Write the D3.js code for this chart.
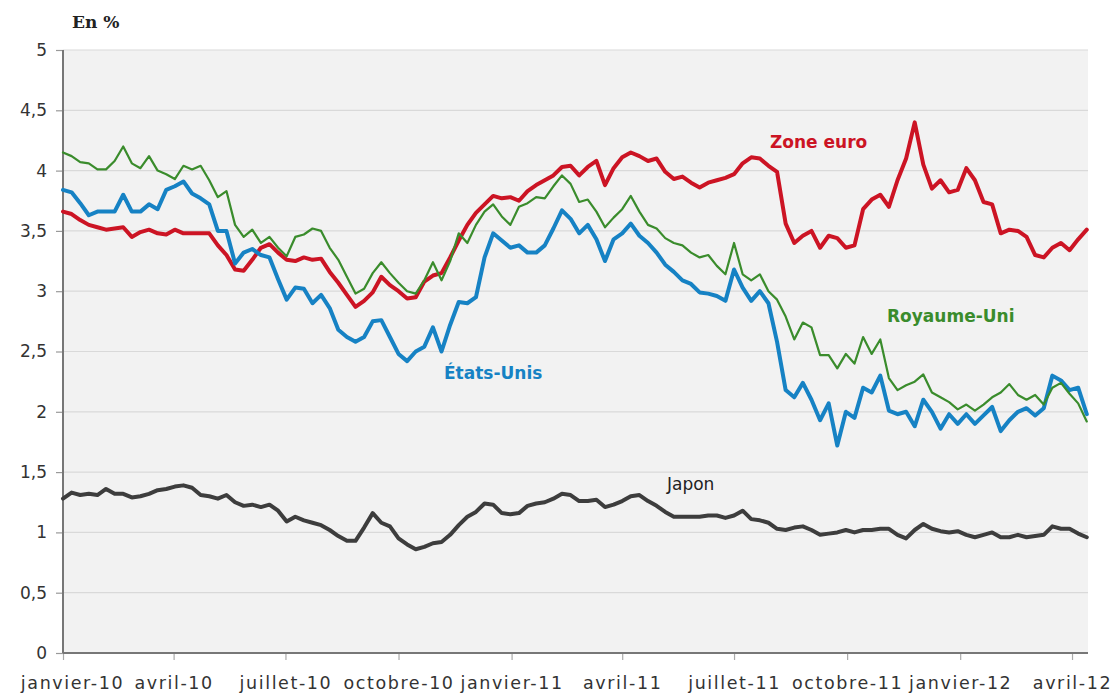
<!DOCTYPE html>
<html>
<head>
<meta charset="utf-8">
<script src="https://cdn.jsdelivr.net/npm/d3@7"></script>
<style>
  body { margin: 0; background: #fff; }
  #chart svg { display: block; }
</style>
</head>
<body>
<div id="chart"></div>
<script>
// weekly readings, first one on 1 January 2010
const startDate = new Date(2010, 0, 1)
const endDate = new Date(2012, 3, 14)

const zoneEuro = [
  3.66, 3.64, 3.59, 3.55, 3.53, 3.51, 3.52, 3.53, 3.45, 3.49,
  3.51, 3.48, 3.47, 3.51, 3.48, 3.48, 3.48, 3.48, 3.38, 3.30,
  3.18, 3.17, 3.26, 3.36, 3.39, 3.32, 3.26, 3.25, 3.28, 3.26,
  3.27, 3.16, 3.07, 2.97, 2.87, 2.92, 2.99, 3.12, 3.05, 3.00,
  2.94, 2.95, 3.08, 3.13, 3.15, 3.28, 3.42, 3.55, 3.65, 3.72,
  3.79, 3.77, 3.78, 3.75, 3.83, 3.88, 3.92, 3.96, 4.03, 4.04,
  3.96, 4.03, 4.08, 3.88, 4.02, 4.11, 4.15, 4.12, 4.08, 4.10,
  3.99, 3.93, 3.95, 3.90, 3.86, 3.90, 3.92, 3.94, 3.97, 4.06,
  4.11, 4.10, 4.04, 3.99, 3.56, 3.40, 3.46, 3.50, 3.36, 3.46,
  3.44, 3.36, 3.38, 3.68, 3.76, 3.80, 3.70, 3.92, 4.10, 4.40,
  4.05, 3.85, 3.92, 3.82, 3.84, 4.02, 3.92, 3.74, 3.72, 3.48,
  3.51, 3.50, 3.45, 3.30, 3.28, 3.36, 3.40, 3.34, 3.43, 3.51
]

const royaumeUni = [
  4.15, 4.12, 4.07, 4.06, 4.01, 4.01, 4.08, 4.20, 4.06, 4.02,
  4.12, 4.00, 3.97, 3.93, 4.04, 4.01, 4.04, 3.92, 3.78, 3.83,
  3.55, 3.45, 3.51, 3.40, 3.45, 3.36, 3.29, 3.45, 3.47, 3.52,
  3.50, 3.36, 3.26, 3.12, 2.98, 3.02, 3.15, 3.24, 3.15, 3.07,
  3.00, 2.98, 3.09, 3.24, 3.09, 3.25, 3.48, 3.40, 3.55, 3.66,
  3.72, 3.62, 3.55, 3.70, 3.73, 3.78, 3.77, 3.87, 3.96, 3.89,
  3.74, 3.76, 3.66, 3.53, 3.61, 3.68, 3.79, 3.66, 3.55, 3.52,
  3.44, 3.40, 3.38, 3.32, 3.28, 3.30, 3.21, 3.14, 3.40, 3.14,
  3.09, 3.14, 3.00, 2.93, 2.79, 2.60, 2.74, 2.70, 2.47, 2.47,
  2.36, 2.48, 2.40, 2.62, 2.48, 2.60, 2.28, 2.18, 2.22, 2.25,
  2.31, 2.16, 2.12, 2.08, 2.02, 2.06, 2.01, 2.06, 2.12, 2.16,
  2.23, 2.14, 2.10, 2.14, 2.06, 2.20, 2.24, 2.15, 2.07, 1.92
]

const etatsUnis = [
  3.84, 3.82, 3.73, 3.63, 3.66, 3.66, 3.66, 3.80, 3.66, 3.66,
  3.72, 3.68, 3.84, 3.87, 3.91, 3.81, 3.77, 3.72, 3.50, 3.50,
  3.23, 3.32, 3.35, 3.30, 3.28, 3.10, 2.93, 3.03, 3.02, 2.90,
  2.97, 2.86, 2.68, 2.62, 2.58, 2.62, 2.75, 2.76, 2.62, 2.48,
  2.42, 2.50, 2.54, 2.70, 2.50, 2.72, 2.91, 2.90, 2.95, 3.28,
  3.48, 3.42, 3.36, 3.38, 3.32, 3.32, 3.38, 3.52, 3.67, 3.60,
  3.48, 3.55, 3.43, 3.25, 3.43, 3.48, 3.56, 3.46, 3.40, 3.32,
  3.22, 3.16, 3.09, 3.06, 2.99, 2.98, 2.96, 2.92, 3.18, 3.03,
  2.92, 3.00, 2.90, 2.58, 2.18, 2.12, 2.24, 2.10, 1.93, 2.07,
  1.72, 2.00, 1.95, 2.20, 2.16, 2.30, 2.01, 1.98, 2.00, 1.88,
  2.10, 2.00, 1.86, 1.98, 1.90, 1.98, 1.90, 1.97, 2.04, 1.84,
  1.93, 2.00, 2.03, 1.97, 2.03, 2.30, 2.26, 2.18, 2.20, 1.98
]

const japon = [
  1.28, 1.33, 1.31, 1.32, 1.31, 1.36, 1.32, 1.32, 1.29, 1.30,
  1.32, 1.35, 1.36, 1.38, 1.39, 1.37, 1.31, 1.30, 1.28, 1.31,
  1.25, 1.22, 1.23, 1.21, 1.23, 1.18, 1.09, 1.13, 1.10, 1.08,
  1.06, 1.02, 0.97, 0.93, 0.93, 1.04, 1.16, 1.08, 1.05, 0.95,
  0.90, 0.86, 0.88, 0.91, 0.92, 0.98, 1.06, 1.13, 1.17, 1.24,
  1.23, 1.16, 1.15, 1.16, 1.22, 1.24, 1.25, 1.28, 1.32, 1.31,
  1.26, 1.26, 1.27, 1.21, 1.23, 1.26, 1.30, 1.31, 1.26, 1.22,
  1.17, 1.13, 1.13, 1.13, 1.13, 1.14, 1.14, 1.12, 1.14, 1.18,
  1.11, 1.10, 1.08, 1.03, 1.02, 1.04, 1.05, 1.02, 0.98, 0.99,
  1.00, 1.02, 1.00, 1.02, 1.02, 1.03, 1.03, 0.98, 0.95, 1.02,
  1.07, 1.03, 1.01, 1.00, 1.01, 0.98, 0.96, 0.98, 1.00, 0.96,
  0.96, 0.98, 0.96, 0.97, 0.98, 1.05, 1.03, 1.03, 0.99, 0.96
]

const xTickDates = [
  new Date(2010, 0, 1), new Date(2010, 3, 1), new Date(2010, 6, 1),
  new Date(2010, 9, 1), new Date(2011, 0, 1), new Date(2011, 3, 1),
  new Date(2011, 6, 1), new Date(2011, 9, 1), new Date(2012, 0, 1),
  new Date(2012, 3, 1)
]
const xTickLabels = ['janvier-10', 'avril-10', 'juillet-10', 'octobre-10', 'janvier-11',
  'avril-11', 'juillet-11', 'octobre-11', 'janvier-12', 'avril-12']
const yTicks = [0, 0.5, 1, 1.5, 2, 2.5, 3, 3.5, 4, 4.5, 5]

const series = [
  { name: 'Japon', values: japon, color: '#3d3d3d', width: 4 },
  { name: 'Zone euro', values: zoneEuro, color: '#cc1424', width: 4 },
  { name: 'États-Unis', values: etatsUnis, color: '#1682c4', width: 4 },
  { name: 'Royaume-Uni', values: royaumeUni, color: '#3a8c2c', width: 2.2 }
]

const labels = [
  { text: 'Zone euro', color: '#cc1424', x: 770, y: 148, weight: 'bold' },
  { text: 'Royaume-Uni', color: '#3a8c2c', x: 887, y: 322, weight: 'bold' },
  { text: 'États-Unis', color: '#1682c4', x: 444, y: 379, weight: 'bold' },
  { text: 'Japon', color: '#222', x: 667, y: 490, weight: 'normal' }
]

const margin = { top: 50, right: 26, bottom: 42, left: 63 }
const width = 1114
const height = 695
const innerW = width - margin.left - margin.right
const innerH = height - margin.top - margin.bottom

const svg = d3.select('#chart')
  .append('svg')
  .attr('width', width)
  .attr('height', height)
  .style('font-family', "'DejaVu Sans', sans-serif")

const g = svg.append('g')
  .attr('transform', 'translate(' + margin.left + ',' + margin.top + ')')

const x = d3.scaleTime().domain([startDate, endDate]).range([0, innerW])
const y = d3.scaleLinear().domain([0, 5]).range([innerH, 0])

g.append('rect')
  .attr('width', innerW)
  .attr('height', innerH)
  .attr('fill', '#f2f2f2')

// horizontal grid
g.selectAll('.grid')
  .data(yTicks.slice(1))
  .join('line')
  .attr('class', 'grid')
  .attr('x1', 0)
  .attr('x2', innerW)
  .attr('y1', d => y(d))
  .attr('y2', d => y(d))
  .attr('stroke', '#d9d9d9')
  .attr('stroke-width', 1.2)

// y axis
const yAxis = g.append('g')
  .call(d3.axisLeft(y).tickValues(yTicks).tickSize(7).tickPadding(9)
    .tickFormat(d => String(d).replace('.', ',')))
yAxis.select('.domain').remove()
yAxis.selectAll('.tick line').attr('stroke', '#999').attr('stroke-width', 1.2)
yAxis.selectAll('text').attr('font-size', 17).attr('fill', '#333')
  .attr('font-family', "'DejaVu Sans', sans-serif")

// x axis
const xAxis = g.append('g')
  .attr('transform', 'translate(0,' + innerH + ')')
  .call(d3.axisBottom(x).tickValues(xTickDates).tickSize(7).tickPadding(17)
    .tickFormat((d, i) => xTickLabels[i]))
xAxis.select('.domain').remove()
xAxis.selectAll('.tick line').attr('stroke', '#aaa').attr('stroke-width', 1.2)
xAxis.selectAll('text').attr('font-size', 17.5).attr('fill', '#333')
  .attr('font-family', "'DejaVu Sans', sans-serif")
  .attr('letter-spacing', 1.6)
xAxis.selectAll('.tick').filter((d, i) => i === 0).select('text').attr('dx', 9)

// axis lines
g.append('line')
  .attr('x1', 0).attr('x2', 0).attr('y1', 0).attr('y2', innerH)
  .attr('stroke', '#777').attr('stroke-width', 2)
g.append('line')
  .attr('x1', 0).attr('x2', innerW).attr('y1', innerH).attr('y2', innerH)
  .attr('stroke', '#777').attr('stroke-width', 2)

const line = d3.line()
  .x((d, i) => x(d3.timeDay.offset(startDate, 7 * i)))
  .y(d => y(d))

g.selectAll('.serie')
  .data(series)
  .join('path')
  .attr('class', 'serie')
  .attr('d', s => line(s.values))
  .attr('fill', 'none')
  .attr('stroke', s => s.color)
  .attr('stroke-width', s => s.width)
  .attr('stroke-linejoin', 'round')
  .attr('stroke-linecap', 'round')

svg.selectAll('.label')
  .data(labels)
  .join('text')
  .attr('class', 'label')
  .attr('x', d => d.x)
  .attr('y', d => d.y)
  .attr('fill', d => d.color)
  .attr('font-weight', d => d.weight)
  .attr('font-size', 17)
  .text(d => d.text)

svg.append('text')
  .attr('x', 72)
  .attr('y', 28)
  .attr('font-family', "'DejaVu Serif', serif")
  .attr('font-weight', 'bold')
  .attr('font-size', 17)
  .attr('fill', '#222')
  .text('En %')
</script>
</body>
</html>
